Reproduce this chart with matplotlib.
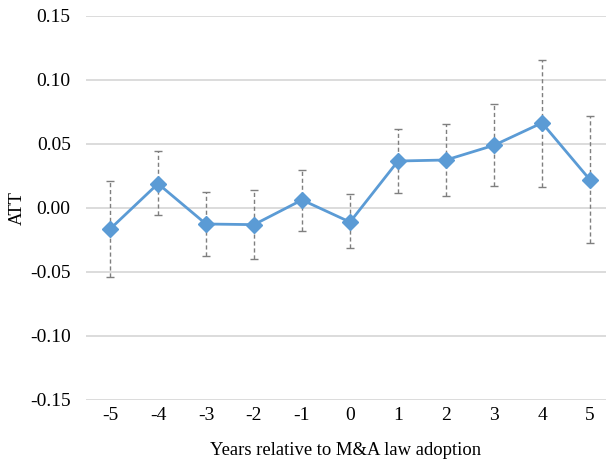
import matplotlib
matplotlib.use("Agg")
import matplotlib.pyplot as plt
import numpy as np

years = [-5, -4, -3, -2, -1, 0, 1, 2, 3, 4, 5]
att = [-0.0165, 0.019, -0.0125, -0.013, 0.0063, -0.011, 0.0367, 0.0375, 0.049, 0.0665, 0.022]
ci_upper = [0.021, 0.0445, 0.0125, 0.014, 0.030, 0.011, 0.0615, 0.066, 0.081, 0.116, 0.072]
ci_lower = [-0.054, -0.0055, -0.0375, -0.040, -0.018, -0.031, 0.012, 0.0094, 0.0174, 0.0167, -0.0273]
yticks = [-0.15, -0.10, -0.05, 0.00, 0.05, 0.10, 0.15]

plt.rcParams['font.family'] = ['Liberation Serif', 'DejaVu Serif']

W, H = 606, 461
fig = plt.figure(figsize=(W/100, H/100), dpi=100)
ax = fig.add_axes([86/W, (H-400)/H, (606-86)/W, 384/H])

x = np.array(years)
y = np.array(att)
yerr = np.vstack([y - np.array(ci_lower), np.array(ci_upper) - y])

eb = ax.errorbar(x, y, yerr=yerr, fmt='none', ecolor='#7f7f7f', elinewidth=1.0,
                 capsize=3, capthick=1.0, zorder=2)
for lc in eb[2]:
    lc.set_linestyle((0, (3, 2)))

ax.plot(x, y, color='#5b9bd5', lw=2, marker='D', markersize=8.5, zorder=3)

ax.set_xlim(-5.5, 5 + 16/48)
ax.set_ylim(-0.15, 0.15)
ax.set_yticks(yticks)
ax.set_yticklabels([f"{v:.2f}" for v in yticks])
ax.set_xticks(years)
ax.set_xticklabels([str(v) for v in years])
ax.grid(axis='y', color='#d9d9d9', lw=1.3, zorder=0)
ax.set_axisbelow(True)
for s in ax.spines.values():
    s.set_visible(False)
ax.tick_params(length=0, labelsize=14, colors='#000000')
ax.tick_params(axis='y', pad=11)
ax.tick_params(axis='x', pad=5)
ax.set_xlabel("Years relative to M&A law adoption", fontsize=13.4, labelpad=13)
ax.set_ylabel("ATT", fontsize=13.4, labelpad=3)

fig.savefig("out.png", dpi=100)
